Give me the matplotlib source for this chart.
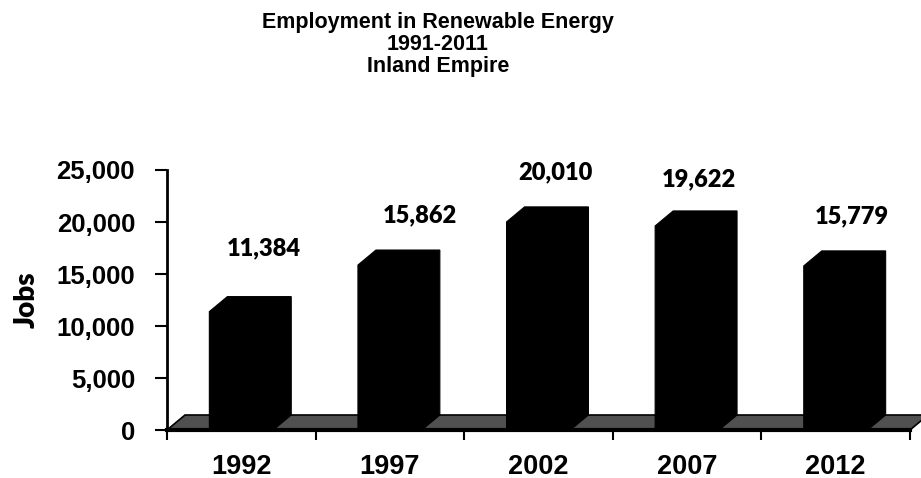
import matplotlib.pyplot as plt
from matplotlib.patches import Polygon
from matplotlib.ticker import FuncFormatter

YEARS = ["1992", "1997", "2002", "2007", "2012"]
JOBS = [11384, 15862, 20010, 19622, 15779]
TITLE_LINES = ["Employment in Renewable Energy", "1991-2011", "Inland Empire"]
Y_LABEL = "Jobs"

# value-label nudges in pixels from the front top of each bar
LABEL_DX = [23, 30, 17, 12, 16]
LABEL_DY = [63, 50, 50, 47, 50]

plt.rcParams["font.family"] = ["Liberation Sans", "DejaVu Sans"]
plt.rcParams["font.weight"] = "bold"

W, H = 921, 478
fig = plt.figure(figsize=(W / 100, H / 100), dpi=100)
ax = fig.add_axes([167 / W, (H - 430) / H, (910 - 167) / W, 260 / H])

n = len(YEARS)
ax.set_xlim(-0.5, n - 0.5)
ax.set_ylim(0, 25000)

# pixel -> data scale for the fake 3D depth
ax_w_px = 910 - 167
ax_h_px = 260
px_x = n / ax_w_px
px_y = 25000 / ax_h_px
dx, dy = 18 * px_x, 15 * px_y

# floor slab
floor = Polygon(
    [(-0.5, 0), (n - 0.5, 0), (n - 0.5 + dx, dy), (-0.5 + dx, dy)],
    closed=True, facecolor="#505050", edgecolor="black", linewidth=1.2,
    clip_on=False, zorder=2,
)
ax.add_patch(floor)

bar_w = 0.43
for i, v in enumerate(JOBS):
    x0, x1 = i - bar_w / 2, i + bar_w / 2
    shape = Polygon(
        [(x0, 0), (x0, v), (x0 + dx, v + dy), (x1 + dx, v + dy), (x1 + dx, dy), (x1, 0)],
        closed=True, facecolor="black", edgecolor="black", linewidth=0.8,
        clip_on=False, zorder=3,
    )
    ax.add_patch(shape)
    ax.annotate(
        f"{v:,}", xy=(i, v), xytext=(LABEL_DX[i] * 0.72, LABEL_DY[i] * 0.72),
        textcoords="offset points", ha="center", va="center",
        fontsize=17, fontweight="heavy", family="Lato", color="black",
        annotation_clip=False,
    )

# axes styling
for side in ["top", "right"]:
    ax.spines[side].set_visible(False)
ax.spines["left"].set_linewidth(2)
ax.spines["bottom"].set_linewidth(3)
ax.spines["bottom"].set_zorder(4)

ax.set_yticks(range(0, 25001, 5000))
ax.yaxis.set_major_formatter(FuncFormatter(lambda v, p: f"{int(v):,}"))
ax.tick_params(axis="y", direction="out", length=9, width=1.5, pad=14, labelsize=18.5)

ax.set_xticks([i - 0.5 for i in range(n + 1)])
ax.set_xticklabels([""] * (n + 1))
ax.set_xticks(range(n), minor=True)
ax.set_xticklabels(YEARS, minor=True)
ax.tick_params(axis="x", which="major", direction="out", length=7, width=1.5)
ax.tick_params(axis="x", which="minor", length=0, pad=17, labelsize=19.5)

ax.set_ylabel(Y_LABEL, fontsize=20, fontweight="heavy", family="Lato")
ax.yaxis.set_label_coords((40 - 167) / ax_w_px, 0.5)

for k, line in enumerate(TITLE_LINES):
    fig.text(438 / W, 1 - (28 + 22 * k) / H, line, ha="center", va="baseline",
             fontsize=15.5, fontweight="bold")

fig.savefig("out.png", dpi=100)
